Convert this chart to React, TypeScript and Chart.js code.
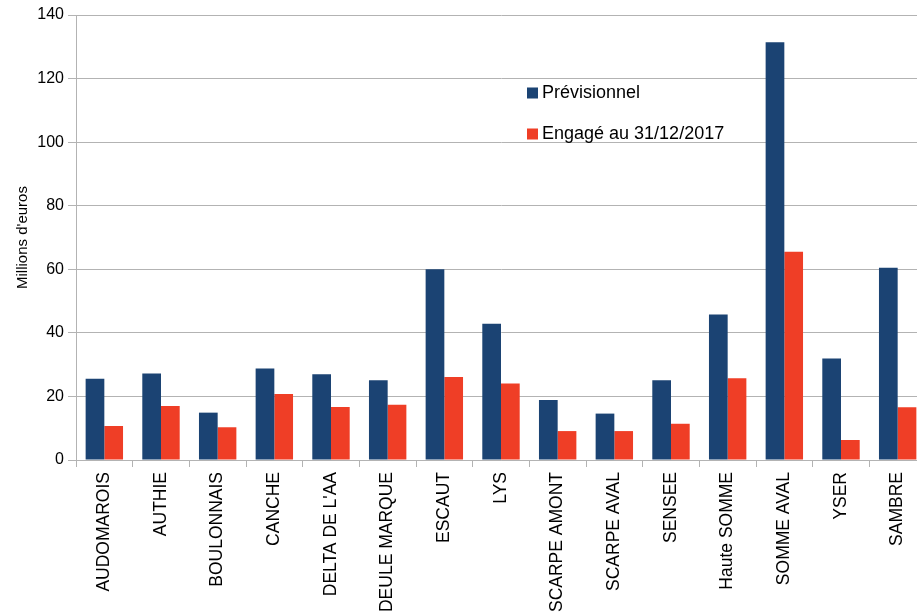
import React, { useEffect, useRef } from "react";
import { Chart, registerables } from "chart.js";

Chart.register(...registerables);

const categories = [
  "AUDOMAROIS",
  "AUTHIE",
  "BOULONNAIS",
  "CANCHE",
  "DELTA DE L'AA",
  "DEULE MARQUE",
  "ESCAUT",
  "LYS",
  "SCARPE AMONT",
  "SCARPE AVAL",
  "SENSEE",
  "Haute SOMME",
  "SOMME AVAL",
  "YSER",
  "SAMBRE",
];

const previsionnel = [25.6, 27.2, 14.9, 28.8, 27.0, 25.1, 60.0, 42.9, 18.9, 14.6, 25.1, 45.8, 131.4, 31.9, 60.5];
const engage = [10.7, 17.0, 10.3, 20.8, 16.7, 17.4, 26.1, 24.1, 9.1, 9.1, 11.4, 25.7, 65.5, 6.3, 16.6];

const seriesLabels = ["Prévisionnel", "Engagé au 31/12/2017"];
const yTicks = [0, 20, 40, 60, 80, 100, 120, 140];

const FONT = "'Liberation Sans', Arial, sans-serif";
const GRID = "#b3b3b3";

// Legend drawn inside the plot area, as two stacked entries
const insideLegend = {
  id: "insideLegend",
  afterDraw(chart: any) {
    const { ctx, chartArea } = chart;
    const x0 = chartArea.left + 451;
    const rows = [chartArea.top + 78, chartArea.top + 119];
    ctx.save();
    ctx.font = `18px ${FONT}`;
    ctx.textBaseline = "middle";
    ctx.textAlign = "left";
    chart.data.datasets.forEach((ds: any, i: number) => {
      const y = rows[i];
      ctx.fillStyle = ds.backgroundColor;
      ctx.fillRect(x0, y - 5.5, 11, 11);
      ctx.fillStyle = "#000";
      ctx.fillText(ds.label, x0 + 15, y);
    });
    ctx.restore();
  },
};

export default function App() {
  const ref = useRef<HTMLCanvasElement | null>(null);

  useEffect(() => {
    if (!ref.current) return;
    const chart = new Chart(ref.current, {
      type: "bar",
      data: {
        labels: categories,
        datasets: [
          {
            label: seriesLabels[0],
            data: previsionnel,
            backgroundColor: "#1b4373",
            barPercentage: 1,
            categoryPercentage: 0.66,
          },
          {
            label: seriesLabels[1],
            data: engage,
            backgroundColor: "#ef3e26",
            barPercentage: 1,
            categoryPercentage: 0.66,
          },
        ],
      },
      options: {
        responsive: false,
        animation: false,
        layout: { padding: { left: 0, right: 0, top: 15, bottom: 0 } },
        plugins: {
          legend: { display: false },
          tooltip: { enabled: false },
        },
        scales: {
          x: {
            afterFit: (scale: any) => {
              scale.height = 155;
            },
            grid: {
              drawOnChartArea: false,
              drawTicks: true,
              tickLength: 7,
              color: GRID,
              lineWidth: 1,
            },
            border: { color: GRID, width: 1 },
            ticks: {
              minRotation: 90,
              maxRotation: 90,
              autoSkip: false,
              padding: 5,
              color: "#000",
              font: { family: FONT, size: 17.5 },
            },
          },
          y: {
            min: 0,
            max: 140,
            afterFit: (scale: any) => {
              scale.width = 76;
            },
            afterBuildTicks: (scale: any) => {
              scale.ticks = yTicks.map((v) => ({ value: v }));
            },
            grid: {
              color: GRID,
              lineWidth: 1,
              drawTicks: true,
              tickLength: 8,
            },
            border: { color: GRID, width: 1 },
            ticks: {
              padding: 4,
              color: "#000",
              font: { family: FONT, size: 16 },
            },
            title: {
              display: true,
              text: "Millions d'euros",
              color: "#000",
              font: { family: FONT, size: 15 },
              padding: { top: 14, bottom: 0 },
            },
          },
        },
      },
      plugins: [insideLegend],
    });
    return () => chart.destroy();
  }, []);

  return (
    <div style={{ position: "fixed", left: 0, top: 0, width: 926, height: 615, background: "#fff" }}>
      <canvas ref={ref} width={926} height={615} style={{ display: "block" }} />
    </div>
  );
}
